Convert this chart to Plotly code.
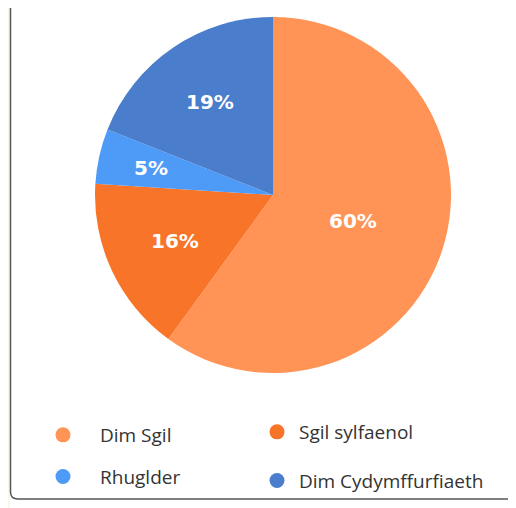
import math
import plotly.graph_objects as go

labels = ["Dim Sgil", "Sgil sylfaenol", "Rhuglder", "Dim Cydymffurfiaeth"]
values = [60, 16, 5, 19]
colors = ["#FF9456", "#F87428", "#4D9BF6", "#4A7DCB"]
label_radius = [0.47, 0.61, 0.70, 0.63]   # fraction of pie radius for the % labels
legend_column = ["legend", "legend2", "legend", "legend2"]

W, H = 516, 508
CX, CY, R = 265, 187, 178   # pie centre / radius in figure pixels

fig = go.Figure()
fig.add_trace(go.Pie(
    labels=labels, values=values, sort=False, direction="clockwise", rotation=0,
    marker=dict(colors=colors, line=dict(width=0)),
    textinfo="none",
    domain=dict(x=[(CX - R) / W, (CX + R) / W], y=[1 - (CY + R) / H, 1 - (CY - R) / H]),
    showlegend=False, hoverinfo="label+percent",
))
for lab, col, lg in zip(labels, colors, legend_column):
    fig.add_trace(go.Scatter(x=[None], y=[None], mode="markers", name=lab,
                             legend=lg, legendgroup=lab,
                             marker=dict(symbol="circle", size=15, color=col)))

# percentage labels placed at slice mid-angles computed from the values
total = sum(values)
annotations = []
cum = 0
for v, f in zip(values, label_radius):
    mid = (cum + v / 2) / total * 2 * math.pi
    cum += v
    px = CX + f * R * math.sin(mid)
    py = CY - f * R * math.cos(mid)
    annotations.append(dict(
        x=px / W, y=1 - py / H, xref="paper", yref="paper", showarrow=False,
        xanchor="center", yanchor="middle",
        text=f"{round(v / total * 100)}%",
        font=dict(family="DejaVu Sans", size=20, color="white", weight="bold"),
    ))

legend_font = dict(family="Open Sans", size=19, color="#333333")
fig.update_layout(
    width=W, height=H, margin=dict(l=0, r=0, t=0, b=0),
    paper_bgcolor="white", plot_bgcolor="white",
    xaxis=dict(visible=False), yaxis=dict(visible=False),
    annotations=annotations,
    legend=dict(orientation="v", x=18 / W, y=1 - 408 / H, xanchor="left", yanchor="top",
                tracegroupgap=14, itemwidth=64, font=legend_font,
                bgcolor="rgba(0,0,0,0)"),
    legend2=dict(orientation="v", x=247 / W, y=1 - 405 / H, xanchor="left", yanchor="top",
                 tracegroupgap=21, itemwidth=34, font=legend_font,
                 bgcolor="rgba(0,0,0,0)"),
    shapes=[
        dict(type="rect", xref="paper", yref="paper", x0=0, x1=2 / W, y0=0, y1=1,
             fillcolor="#FDF6EA", line=dict(width=0), layer="below"),
        dict(type="path", xref="paper", yref="paper",
             path=f"M {2.5/W} 1 L {2.5/W} {24/H} Q {2.5/W} {17/H} {10/W} {17/H} L 1.01 {17/H}",
             line=dict(color="#555555", width=1.5)),
    ],
)
fig.write_html("out.html")
